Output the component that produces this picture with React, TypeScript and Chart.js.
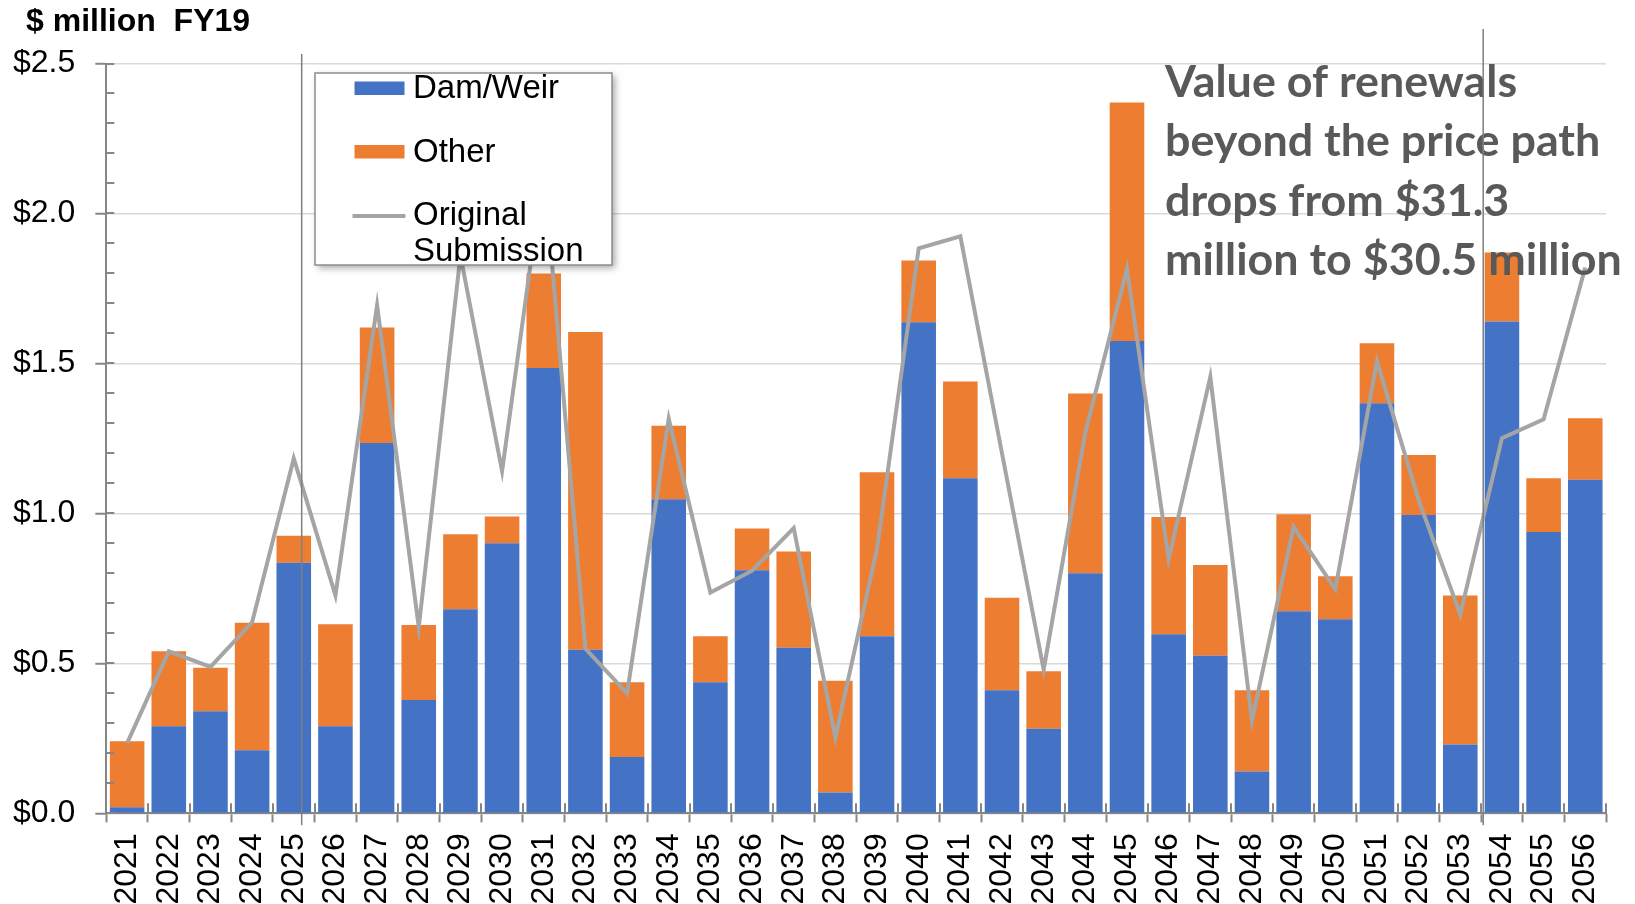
import React, { useEffect, useRef } from 'react';
import { Chart, registerables } from 'chart.js';

Chart.register(...registerables);

const YEARS = [
  '2021', '2022', '2023', '2024', '2025', '2026', '2027', '2028', '2029', '2030',
  '2031', '2032', '2033', '2034', '2035', '2036', '2037', '2038', '2039', '2040',
  '2041', '2042', '2043', '2044', '2045', '2046', '2047', '2048', '2049', '2050',
  '2051', '2052', '2053', '2054', '2055', '2056',
];

const DAM_WEIR = [
  0.02, 0.29, 0.34, 0.21, 0.835, 0.29, 1.235, 0.378, 0.68, 0.9,
  1.485, 0.545, 0.188, 1.047, 0.437, 0.81, 0.552, 0.069, 0.59, 1.637,
  1.117, 0.41, 0.282, 0.8, 1.575, 0.597, 0.525, 0.139, 0.674, 0.647,
  1.367, 0.995, 0.229, 1.64, 0.938, 1.112,
];

const OTHER = [
  0.22, 0.25, 0.145, 0.425, 0.09, 0.34, 0.385, 0.25, 0.25, 0.09,
  0.315, 1.06, 0.249, 0.245, 0.153, 0.14, 0.321, 0.373, 0.547, 0.206,
  0.323, 0.309, 0.192, 0.6, 0.795, 0.391, 0.303, 0.271, 0.323, 0.143,
  0.2, 0.2, 0.497, 0.23, 0.179, 0.205,
];

const ORIGINAL = [
  0.234, 0.54, 0.488, 0.637, 1.183, 0.727, 1.694, 0.62, 1.86, 1.141,
  2.15, 0.549, 0.4, 1.316, 0.736, 0.809, 0.951, 0.253, 0.882, 1.884,
  1.924, 1.2, 0.479, 1.27, 1.816, 0.847, 1.455, 0.309, 0.955, 0.747,
  1.507, 1.045, 0.663, 1.251, 1.314, 1.82,
];

const Y_TICKS = [0, 0.5, 1.0, 1.5, 2.0, 2.5];
const Y_MINOR_STEP = 0.1;

const TITLE = '$ million  FY19';
const SERIES_NAMES = ['Dam/Weir', 'Other', 'Original Submission'];
const NOTE_LINES = [
  'Value of renewals',
  'beyond the price path',
  'drops from $31.3',
  'million to $30.5 million',
];

// vertical marker lines: category + fractional offset of a category width
const MARKERS = [
  { year: '2025', offset: 0.19, top: 54 },
  { year: '2053', offset: 0.55, top: 29 },
];

const BLUE = '#4472C4';
const ORANGE = '#ED7D31';
const GREY_LINE = '#A5A5A5';
const AXIS = '#868686';
const SANS = "'Liberation Sans', Arial, sans-serif";

const decorPlugin = {
  id: 'decor',
  afterDraw(chart: any) {
    const { ctx, chartArea, scales } = chart;
    const x = scales.x;
    const y = scales.y;
    ctx.save();

    // inside tick marks on the y axis (major + minor)
    ctx.strokeStyle = AXIS;
    ctx.lineWidth = 2;
    const nMinor = Math.round(2.5 / Y_MINOR_STEP);
    for (let i = 0; i <= nMinor; i++) {
      const py = Math.round(y.getPixelForValue(i * Y_MINOR_STEP));
      ctx.beginPath();
      ctx.moveTo(chartArea.left, py);
      ctx.lineTo(chartArea.left + 8, py);
      ctx.stroke();
    }
    // inside tick marks on the x axis at category boundaries
    const catW = (chartArea.right - chartArea.left) / YEARS.length;
    for (let i = 0; i <= YEARS.length; i++) {
      const px = Math.round(x.getPixelForValue(0) - catW / 2 + i * catW);
      ctx.beginPath();
      ctx.moveTo(px, chartArea.bottom);
      ctx.lineTo(px, chartArea.bottom - 10);
      ctx.stroke();
    }

    // title
    ctx.fillStyle = '#000';
    ctx.font = `bold 32px ${SANS}`;
    ctx.textAlign = 'left';
    ctx.textBaseline = 'alphabetic';
    ctx.fillText(TITLE, 26, 31);

    // annotation text, fitted to width
    const noteFont = "Lato, 'Open Sans', sans-serif";
    ctx.font = `bold 100px ${noteFont}`;
    const w100 = ctx.measureText(NOTE_LINES[3]).width;
    const size = (457 / w100) * 100;
    ctx.font = `bold ${size.toFixed(2)}px ${noteFont}`;
    ctx.fillStyle = '#595959';
    NOTE_LINES.forEach((t, i) => ctx.fillText(t, 1165, 96.5 + i * 59.6));

    // vertical marker lines
    ctx.strokeStyle = '#7F7F7F';
    ctx.lineWidth = 1.5;
    MARKERS.forEach((m) => {
      const idx = YEARS.indexOf(m.year);
      const px = x.getPixelForValue(idx) + m.offset * catW;
      ctx.beginPath();
      ctx.moveTo(px, m.top);
      ctx.lineTo(px, chartArea.bottom + 12);
      ctx.stroke();
    });

    // legend box
    const lx = 315, ly = 73, lw = 297, lh = 192;
    ctx.save();
    ctx.shadowColor = 'rgba(0,0,0,0.35)';
    ctx.shadowBlur = 7;
    ctx.shadowOffsetX = 3;
    ctx.shadowOffsetY = 3;
    ctx.fillStyle = '#fff';
    ctx.fillRect(lx, ly, lw, lh);
    ctx.restore();
    ctx.strokeStyle = '#8C8C8C';
    ctx.lineWidth = 1.5;
    ctx.strokeRect(lx, ly, lw, lh);

    ctx.fillStyle = BLUE;
    ctx.fillRect(354.5, 81.5, 50, 13.5);
    ctx.fillStyle = ORANGE;
    ctx.fillRect(354.5, 145, 50, 13.5);
    ctx.strokeStyle = GREY_LINE;
    ctx.lineWidth = 4;
    ctx.beginPath();
    ctx.moveTo(352.5, 216);
    ctx.lineTo(405.5, 216);
    ctx.stroke();

    ctx.fillStyle = '#000';
    ctx.font = `33px ${SANS}`;
    ctx.fillText(SERIES_NAMES[0], 413, 98);
    ctx.fillText(SERIES_NAMES[1], 413, 162);
    const parts = SERIES_NAMES[2].split(' ');
    ctx.fillText(parts[0], 413, 225);
    ctx.fillText(parts[1], 413, 261);

    ctx.restore();
  },
};

export default function App() {
  const ref = useRef<HTMLCanvasElement | null>(null);

  useEffect(() => {
    if (!ref.current) return;
    const chart = new Chart(ref.current, {
      type: 'bar',
      data: {
        labels: YEARS,
        datasets: [
          {
            type: 'line',
            label: SERIES_NAMES[2],
            data: ORIGINAL,
            borderColor: GREY_LINE,
            backgroundColor: GREY_LINE,
            borderWidth: 4,
            pointRadius: 0,
            tension: 0,
            borderJoinStyle: 'miter',
            stack: 'line',
            order: 0,
          } as any,
          {
            type: 'bar',
            label: SERIES_NAMES[0],
            data: DAM_WEIR,
            backgroundColor: BLUE,
            stack: 'bars',
            barPercentage: 0.83,
            categoryPercentage: 1,
            order: 1,
          },
          {
            type: 'bar',
            label: SERIES_NAMES[1],
            data: OTHER,
            backgroundColor: ORANGE,
            stack: 'bars',
            barPercentage: 0.83,
            categoryPercentage: 1,
            order: 1,
          },
        ],
      },
      options: {
        responsive: false,
        animation: false,
        devicePixelRatio: 1,
        layout: { padding: { top: 63.5, right: 24, left: 0, bottom: 0 } },
        plugins: {
          legend: { display: false },
          tooltip: { enabled: false },
          title: { display: false },
        },
        scales: {
          x: {
            stacked: true,
            grid: {
              offset: true,
              drawOnChartArea: false,
              drawTicks: true,
              tickLength: 9,
              tickWidth: 2,
              tickColor: AXIS,
            },
            border: { color: AXIS, width: 2 },
            ticks: {
              minRotation: 90,
              maxRotation: 90,
              autoSkip: false,
              padding: 11,
              color: '#000',
              font: { family: SANS, size: 32 },
            },
            afterFit: (s: any) => {
              s.height = 90.7;
            },
          },
          y: {
            stacked: true,
            min: 0,
            max: 2.5,
            afterBuildTicks: (s: any) => {
              s.ticks = Y_TICKS.map((v) => ({ value: v }));
            },
            ticks: {
              padding: 20,
              color: '#000',
              font: { family: SANS, size: 32 },
              callback: (v: any) => '$' + Number(v).toFixed(1),
            },
            grid: {
              color: '#D9D9D9',
              lineWidth: 1.5,
              tickLength: 11,
              tickColor: AXIS,
              tickWidth: 2,
            },
            border: { color: AXIS, width: 2 },
            afterFit: (s: any) => {
              s.width = 106.3;
            },
          },
        },
      } as any,
      plugins: [decorPlugin],
    });
    return () => chart.destroy();
  }, []);

  return (
    <div
      style={{
        position: 'absolute',
        left: 0,
        top: 0,
        width: 1635,
        height: 904,
        background: '#fff',
      }}
    >
      <canvas ref={ref} width={1635} height={904} style={{ width: 1635, height: 904 }} />
    </div>
  );
}
